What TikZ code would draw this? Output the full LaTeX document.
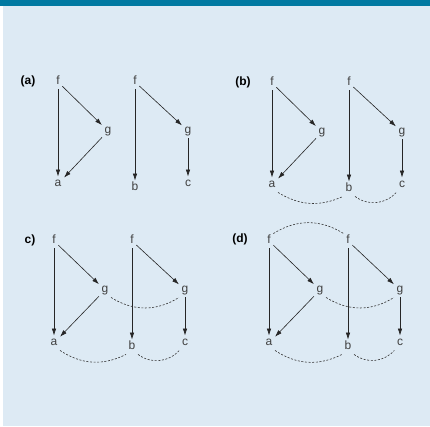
\documentclass[tikz,border=0pt]{standalone}
\usepackage{fontspec}
\setmainfont{Liberation Sans}
\usetikzlibrary{arrows.meta}
\definecolor{panelbg}{HTML}{DDEAF4}
\definecolor{titlebar}{HTML}{0079A1}
\definecolor{lettergray}{HTML}{404040}
\begin{document}
\begin{tikzpicture}[x=1pt,y=-1pt,>={Latex[length=7pt,width=4.5pt]},
    every node/.style={font=\fontsize{12}{14}\selectfont, text=lettergray, text height=7.5pt, text depth=2pt, inner sep=2.5pt},
    panellabel/.style={font=\fontsize{12}{14}\selectfont\bfseries, text=black},
    link/.style={draw=black!85, line width=0.6pt},
    match/.style={draw=black!80, line width=0.6pt, dash pattern=on 2pt off 1.6pt}]
      \useasboundingbox (0,0) rectangle (430,426);
      % Draw the background and the title bar
      \fill[panelbg] (3,5) rectangle (430,426);
      \fill[titlebar] (0,0) rectangle (430,5.6);

      % Draw panel (a)
      \node[panellabel] at (28,82) (laba) {(a)};
      \node at (58,82) (af1) {f};
      \node at (108,131) (ag1) {g};
      \node at (58,184) (aa) {a};
      \node at (135,82) (af2) {f};
      \node at (188,131) (ag2) {g};
      \node at (135,188) (ab) {b};
      \node at (188,184) (ac) {c};
      \draw[link,->] (af1) -- (aa);
      \draw[link,->] (af1) -- (ag1);
      \draw[link,->] (ag1) -- (aa);
      \draw[link,->] (af2) -- (ab);
      \draw[link,->] (af2) -- (ag2);
      \draw[link,->] (ag2) -- (ac);

      % Draw panel (b)
      \node[panellabel] at (243,83) (labb) {(b)};
      \node at (272,83) (bf1) {f};
      \node at (322,132) (bg1) {g};
      \node at (272,185) (ba) {a};
      \node at (349,83) (bf2) {f};
      \node at (402,132) (bg2) {g};
      \node at (349,189) (bb) {b};
      \node at (402,185) (bc) {c};
      \draw[link,->] (bf1) -- (ba);
      \draw[link,->] (bf1) -- (bg1);
      \draw[link,->] (bg1) -- (ba);
      \draw[link,->] (bf2) -- (bb);
      \draw[link,->] (bf2) -- (bg2);
      \draw[link,->] (bg2) -- (bc);
      \draw[match] (ba.south east) to[bend right=28] (bb.south west);
      \draw[match] (bb.south east) to[bend right=42] (bc.south west);

      % Draw panel (c)
      \node[panellabel] at (30,241) (labc) {c)};
      \node at (54,241) (cf1) {f};
      \node at (105,290) (cg1) {g};
      \node at (54,343) (ca) {a};
      \node at (132,241) (cf2) {f};
      \node at (185,290) (cg2) {g};
      \node at (132,347) (cb) {b};
      \node at (185,343) (cc) {c};
      \draw[link,->] (cf1) -- (ca);
      \draw[link,->] (cf1) -- (cg1);
      \draw[link,->] (cg1) -- (ca);
      \draw[link,->] (cf2) -- (cb);
      \draw[link,->] (cf2) -- (cg2);
      \draw[link,->] (cg2) -- (cc);
      \draw[match] (cg1.south east) to[bend right=32] (cg2.south west);
      \draw[match] (ca.south east) to[bend right=30] (cb.south west);
      \draw[match] (cb.south east) to[bend right=42] (cc.south west);

      % Draw panel (d)
      \node[panellabel] at (240,240) (labd) {(d)};
      \node at (269,241) (df1) {f};
      \node at (320,290) (dg1) {g};
      \node at (269,343) (da) {a};
      \node at (348,241) (df2) {f};
      \node at (400,290) (dg2) {g};
      \node at (348,347) (db) {b};
      \node at (400,343) (dc) {c};
      \draw[link,->] (df1) -- (da);
      \draw[link,->] (df1) -- (dg1);
      \draw[link,->] (dg1) -- (da);
      \draw[link,->] (df2) -- (db);
      \draw[link,->] (df2) -- (dg2);
      \draw[link,->] (dg2) -- (dc);
      \draw[match] (df1.north east) to[bend left=32] (df2.north west);
      \draw[match] (dg1.south east) to[bend right=32] (dg2.south west);
      \draw[match] (da.south east) to[bend right=30] (db.south west);
      \draw[match] (db.south east) to[bend right=42] (dc.south west);
    \end{tikzpicture}
\end{document}
